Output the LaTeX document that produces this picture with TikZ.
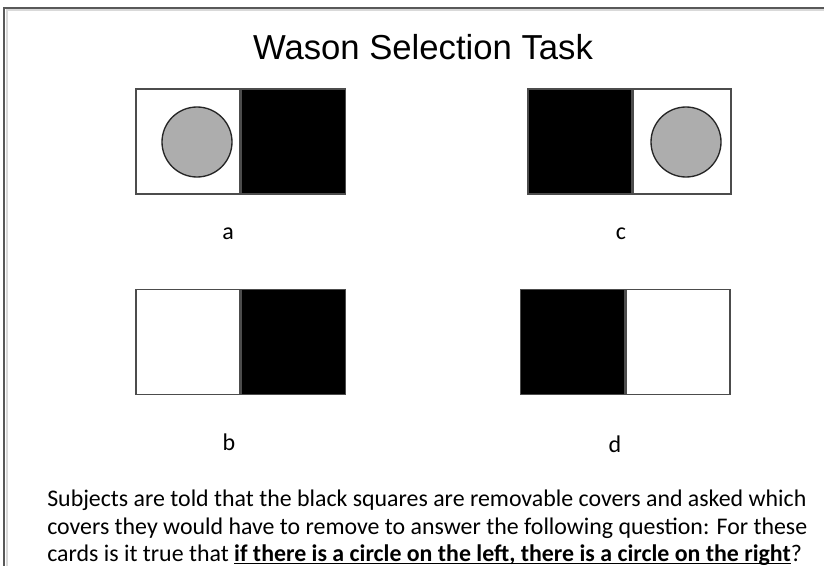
\documentclass[tikz,border=0pt]{standalone}
\usepackage{fontspec}
\setmainfont{Carlito}
\newfontfamily\titlefont{Liberation Sans}
\usetikzlibrary{positioning}
\newcommand{\ulbold}[1]{\setbox0\hbox{\textbf{#1}}\rlap{\rule[-2.6pt]{\wd0}{0.9pt}}\box0}

\tikzstyle{face}=[draw=black!70,fill=white,rectangle,line width=1.2pt,minimum width=78pt,minimum height=78.75pt,inner sep=0pt]
\tikzstyle{cover}=[draw=black!70,fill=black,rectangle,line width=1.2pt,minimum width=78pt,minimum height=78.75pt,inner sep=0pt]
\tikzstyle{dot}=[draw=black!85,fill=black!32,circle,line width=1pt,minimum size=52.5pt,inner sep=0pt]
\tikzstyle{cardname}=[font=\fontsize{18}{21}\selectfont,anchor=base,inner sep=0pt]
\tikzstyle{textline}=[font=\fontsize{17.9}{21}\selectfont,anchor=base west,inner sep=0pt]
\tikzstyle{frame}=[draw=black!65,line width=1.5pt]

\begin{document}
\begin{tikzpicture}[x=0.75pt,y=-0.75pt]
\useasboundingbox (0,0) rectangle (824,566);

% slide frame
\draw[black!15,line width=1.5pt] (6.5,566) -- (6.5,10.5) -- (824,10.5);
\draw[frame] (4,566) -- (4,8) -- (824,8);

\node[font=\titlefont\fontsize{26}{30}\selectfont,inner sep=0pt] (title) at (423,47) {Wason Selection Task};

% card a
\node[face] (a-face) at (188,141.5) {};
\node[cover,right=0pt of a-face] (a-cover) {};
\node[dot] (a-dot) at (197,142) {};

% card c
\node[cover] (c-cover) at (580,141.5) {};
\node[face,minimum width=73pt,right=0pt of c-cover] (c-face) {};
\node[dot] (c-dot) at (686,142) {};

% card b
\node[face] (b-face) at (188,342) {};
\node[cover,right=0pt of b-face] (b-cover) {};

% card d
\node[cover] (d-cover) at (572.5,342) {};
\node[face,right=0pt of d-cover] (d-face) {};

% card names
\node[cardname] (a-name) at (228,240) {a};
\node[cardname] (c-name) at (621,240) {c};
\node[cardname] (b-name) at (229,450) {b};
\node[cardname] (d-name) at (615,452) {d};

% question
\node[textline] (line-1) at (47,506) {Subjects are told that the black squares are removable covers and asked which};
\node[textline] (line-2) at (47,534) {covers they would have to remove to answer the following question: For these};
\node[textline] (line-3) at (47,561) {cards is it true that \ulbold{if there is a circle on the left, there is a circle on the right}?};

\end{tikzpicture}
\end{document}
